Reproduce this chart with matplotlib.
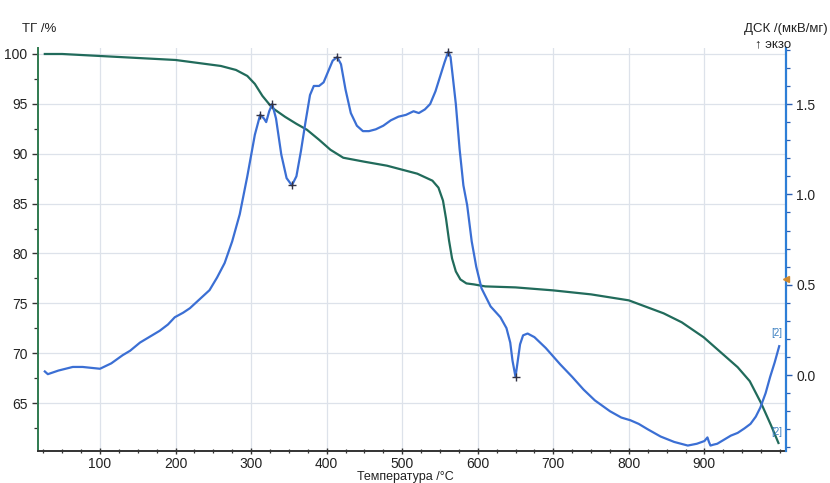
import matplotlib
matplotlib.use("Agg")
import matplotlib.pyplot as plt
from matplotlib.ticker import MultipleLocator

plt.rcParams['font.family'] = ['Liberation Sans', 'DejaVu Sans']

# ---- data ----
tg_temp = [27, 50, 100, 150, 200, 230, 260, 280, 295, 305, 315, 328, 345, 360, 374,
           390, 405, 422, 450, 480, 500, 520, 540, 548, 554, 558, 562, 566, 571, 577,
           585, 595, 610, 650, 700, 750, 800, 846, 870, 899, 920, 944, 960, 975, 988, 998]
tg_vals = [100.0, 100.0, 99.8, 99.6, 99.4, 99.1, 98.8, 98.4, 97.8, 97.0, 95.8, 94.6, 93.7,
           93.0, 92.4, 91.4, 90.4, 89.6, 89.2, 88.8, 88.4, 88.0, 87.3, 86.6, 85.3, 83.5,
           81.3, 79.5, 78.2, 77.4, 77.0, 76.9, 76.7, 76.6, 76.3, 75.9, 75.3, 74.0, 73.1,
           71.6, 70.2, 68.6, 67.2, 65.0, 62.8, 61.0]

dsc_temp = [27, 31, 45, 64, 77, 100, 115, 130, 140, 153, 165, 179, 190, 199, 210, 219,
            232, 245, 255, 265, 275, 285, 295, 305, 312, 317, 320, 324, 328, 333, 340,
            347, 354, 360, 366, 372, 378, 383, 390, 396, 402, 408, 414, 419, 425, 432,
            440, 448, 456, 465, 475, 485, 495, 505, 515, 522, 530, 537, 544, 550, 556,
            561, 564, 567, 571, 576, 581, 586, 592, 598, 605, 617, 630, 638, 643, 646,
            650, 653, 656, 660, 666, 675, 690, 709, 725, 740, 755, 775, 790, 802, 813,
            825, 842, 860, 878, 890, 900, 904, 906, 908, 912, 917, 925, 935, 944, 953,
            961, 968, 974, 981, 987, 993, 999]
dsc_vals = [0.02, 0.005, 0.025, 0.045, 0.045, 0.035, 0.065, 0.11, 0.135, 0.18, 0.21,
            0.245, 0.28, 0.32, 0.345, 0.37, 0.42, 0.47, 0.54, 0.62, 0.74, 0.89, 1.10,
            1.33, 1.44, 1.42, 1.40, 1.46, 1.50, 1.42, 1.22, 1.09, 1.05, 1.10, 1.24, 1.40,
            1.55, 1.60, 1.60, 1.62, 1.68, 1.74, 1.76, 1.72, 1.58, 1.45, 1.38, 1.35, 1.35,
            1.36, 1.38, 1.41, 1.43, 1.44, 1.46, 1.45, 1.47, 1.50, 1.57, 1.65, 1.73, 1.79,
            1.76, 1.65, 1.50, 1.25, 1.05, 0.94, 0.74, 0.60, 0.48, 0.38, 0.32, 0.26, 0.18,
            0.08, -0.01, 0.08, 0.17, 0.22, 0.23, 0.21, 0.15, 0.06, -0.01, -0.08, -0.14,
            -0.20, -0.235, -0.25, -0.27, -0.30, -0.34, -0.37, -0.39, -0.38, -0.365,
            -0.345, -0.37, -0.39, -0.385, -0.38, -0.36, -0.335, -0.32, -0.295, -0.27,
            -0.23, -0.18, -0.10, -0.01, 0.07, 0.16]

peak_temp = [312, 328, 354, 414, 561, 650]
peak_vals = [1.44, 1.50, 1.05, 1.76, 1.79, -0.01]

x_ticks = [100, 200, 300, 400, 500, 600, 700, 800, 900]
tg_ticks = [65, 70, 75, 80, 85, 90, 95, 100]
dsc_ticks = [0.0, 0.5, 1.0, 1.5]

TG_COLOR = '#216b5b'
DSC_COLOR = '#3b6fd4'
GRID_COLOR = '#dde2ea'

fig = plt.figure(figsize=(8.3, 4.83), dpi=100)
ax = fig.add_axes([0.0458, 0.0663, 0.9012, 0.8343])
ax2 = ax.twinx()

ax.set_xlim(18, 1008)
ax.set_ylim(60.2, 100.6)
ax2.set_ylim(-0.42, 1.81)

ax.set_xticks(x_ticks)
ax.set_yticks(tg_ticks)
ax2.set_yticks(dsc_ticks)
ax2.set_yticklabels([f"{v:.1f}" for v in dsc_ticks])
ax.xaxis.set_minor_locator(MultipleLocator(25))
ax.yaxis.set_minor_locator(MultipleLocator(2.5))
ax2.yaxis.set_minor_locator(MultipleLocator(0.1))

ax.grid(True, which='major', color=GRID_COLOR, linewidth=0.9)
ax.set_axisbelow(True)

ax.plot(tg_temp, tg_vals, color=TG_COLOR, linewidth=1.6, zorder=3)
ax2.plot(dsc_temp, dsc_vals, color=DSC_COLOR, linewidth=1.6, zorder=3)
ax2.plot(peak_temp, peak_vals, linestyle='none', marker='+', color='#333344',
         markersize=6, markeredgewidth=1.0, zorder=4)

for s in ['top']:
    ax.spines[s].set_visible(False)
    ax2.spines[s].set_visible(False)
ax2.spines['left'].set_visible(False)
ax2.spines['bottom'].set_visible(False)
ax.spines['right'].set_visible(False)
ax.spines['left'].set_color('#2f7a4f')
ax.spines['left'].set_linewidth(1.4)
ax.spines['bottom'].set_color('#333333')
ax.spines['bottom'].set_linewidth(1.4)
ax2.spines['right'].set_color('#2d7ed6')
ax2.spines['right'].set_linewidth(1.6)

ax.tick_params(axis='both', which='major', labelsize=10, length=4, width=1.0,
               color='#333333', labelcolor='#222222')
ax.tick_params(axis='both', which='minor', length=3, width=0.9, color='#333333')
ax.tick_params(axis='x', which='both', direction='inout', pad=2)
ax2.tick_params(axis='y', which='major', labelsize=10, length=4, width=1.0,
                color='#2d5fb0', labelcolor='#222222')
ax2.tick_params(axis='y', which='minor', length=3, width=0.9, color='#2d5fb0')

fig.text(0.027, 0.94, "ТГ /%", fontsize=9.5, color='#222222', ha='left', va='center')
fig.text(0.997, 0.94, "ДСК /(мкВ/мг)", fontsize=9.5, color='#222222', ha='right', va='center')
fig.text(0.953, 0.908, "↑ экзо", fontsize=9.5, color='#222222', ha='right', va='center')
fig.text(0.488, 0.0, "Температура /°C", fontsize=9, color='#222222', ha='center', va='bottom')

ax2.text(996, 0.235, "[2]", fontsize=7, color='#3a7fc0', ha='center', va='center')
ax2.text(996, -0.315, "[2]", fontsize=7, color='#3a7fc0', ha='center', va='center')
ax2.plot([1.0], [0.53], transform=ax2.get_yaxis_transform(), marker='<', color='#d08a30',
         markersize=5, clip_on=False, zorder=5)

fig.savefig("out.png", dpi=100)
